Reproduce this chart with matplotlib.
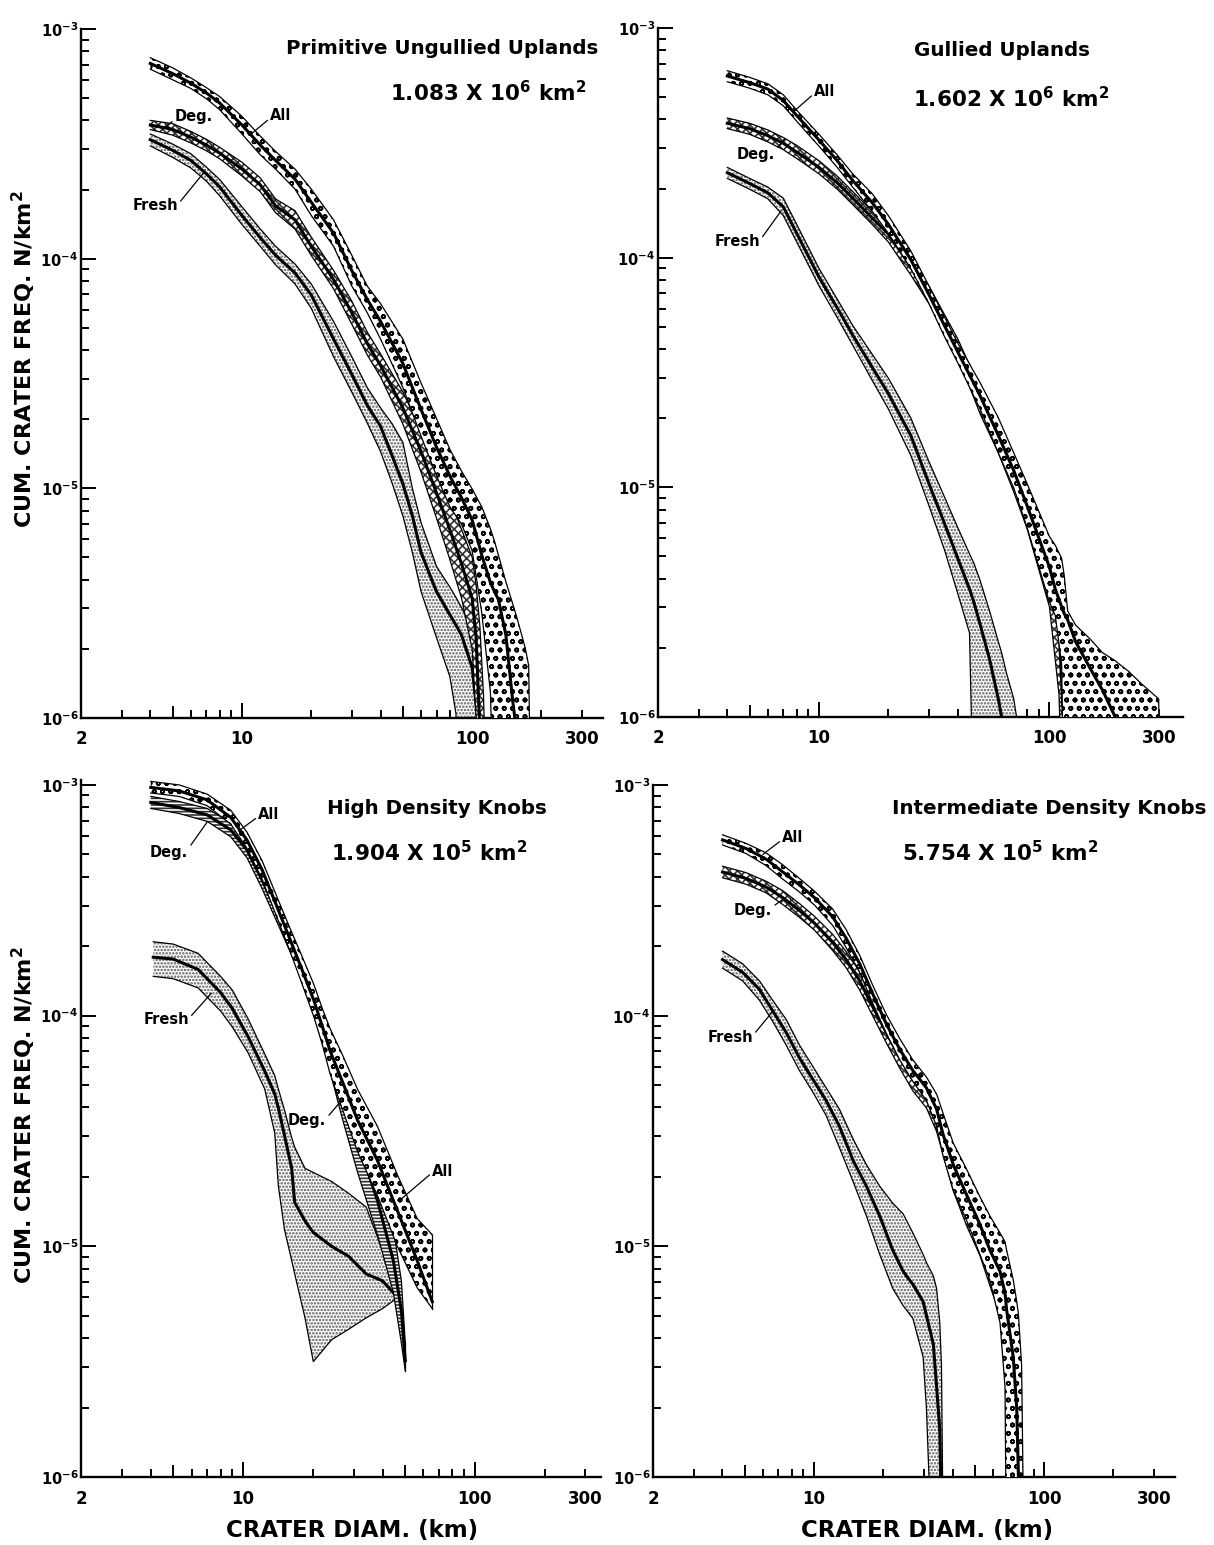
import numpy as np
import matplotlib
matplotlib.use("Agg")
import matplotlib.pyplot as plt
from matplotlib.ticker import NullFormatter

W, H = 1214, 1545
plt.rcParams["font.family"] = ["DejaVu Sans"]
plt.rcParams["mathtext.fontset"] = "dejavusans"
plt.rcParams["hatch.linewidth"] = 1.2

# ---------------- data: crater diameter D (km) and log10 of cumulative frequency N (per km^2) ----------
# ---- Primitive Ungullied Uplands
TL_ALL_D = [4, 5, 6, 7, 8, 10, 12, 14, 17, 20, 25, 30, 35, 40, 50, 60, 70, 80, 90, 100, 110, 120, 125, 130, 140, 150, 155, 160, 170, 176, 180]
TL_ALL_MID = [-3.150, -3.194, -3.236, -3.278, -3.322, -3.418, -3.505, -3.572, -3.654, -3.754, -3.889, -4.052, -4.177, -4.273, -4.456, -4.657, -4.821, -4.946, -5.042, -5.138, -5.290, -5.410, -5.450, -5.484, -5.637, -5.926, -6.040, -6.300, -6.500, -6.500, -6.500]
TL_ALL_HI = [-3.125, -3.169, -3.213, -3.255, -3.294, -3.380, -3.466, -3.533, -3.610, -3.697, -3.831, -3.985, -4.119, -4.196, -4.350, -4.542, -4.696, -4.830, -4.926, -5.003, -5.080, -5.176, -5.230, -5.291, -5.406, -5.503, -5.550, -5.599, -5.695, -5.772, -6.500]
TL_ALL_LO = [-3.175, -3.221, -3.259, -3.303, -3.351, -3.457, -3.547, -3.610, -3.697, -3.812, -3.946, -4.119, -4.235, -4.350, -4.561, -4.773, -4.946, -5.080, -5.157, -5.272, -5.540, -5.887, -6.500, -6.500, -6.500, -6.500, -6.500, -6.500, -6.500, -6.500, -6.500]

TL_DEG_D = [4, 5, 6, 7, 8, 10, 12, 14, 17, 20, 25, 30, 35, 40, 50, 60, 70, 80, 90, 100, 104, 108, 112, 116]
TL_DEG_MID = [-3.418, -3.437, -3.471, -3.505, -3.540, -3.610, -3.678, -3.770, -3.831, -3.946, -4.091, -4.235, -4.369, -4.465, -4.650, -4.840, -5.020, -5.180, -5.330, -5.480, -5.650, -6.050, -6.500, -6.500]
TL_DEG_HI = [-3.398, -3.412, -3.446, -3.480, -3.515, -3.580, -3.648, -3.740, -3.791, -3.906, -4.051, -4.185, -4.319, -4.415, -4.580, -4.750, -4.910, -5.050, -5.180, -5.300, -5.420, -5.600, -5.900, -6.500]
TL_DEG_LO = [-3.438, -3.462, -3.496, -3.530, -3.565, -3.640, -3.708, -3.800, -3.871, -3.986, -4.131, -4.285, -4.419, -4.515, -4.720, -4.930, -5.130, -5.310, -5.480, -5.700, -6.000, -6.500, -6.500, -6.500]

TL_FRESH_D = [4, 5, 6, 7, 8, 10, 12, 14, 17, 20, 25, 30, 35, 40, 45, 50, 55, 60, 70, 80, 85, 90, 100, 105, 108, 110]
TL_FRESH_MID = [-3.482, -3.528, -3.572, -3.630, -3.687, -3.812, -3.908, -3.985, -4.062, -4.158, -4.350, -4.504, -4.638, -4.730, -4.860, -4.980, -5.120, -5.280, -5.450, -5.550, -5.595, -5.640, -5.780, -5.980, -6.300, -6.500]
TL_FRESH_HI = [-3.457, -3.501, -3.543, -3.601, -3.655, -3.774, -3.870, -3.946, -4.023, -4.110, -4.273, -4.427, -4.561, -4.650, -4.720, -4.800, -5.000, -5.150, -5.340, -5.430, -5.475, -5.520, -5.610, -5.750, -5.900, -6.500]
TL_FRESH_LO = [-3.509, -3.559, -3.605, -3.662, -3.726, -3.851, -3.946, -4.027, -4.110, -4.216, -4.427, -4.581, -4.715, -4.840, -4.980, -5.120, -5.280, -5.450, -5.650, -5.820, -5.980, -6.500, -6.500, -6.500, -6.500, -6.500]

# ---- Gullied Uplands
TR_ALL_D = [4, 5, 6, 7, 8, 10, 12, 14, 17, 20, 25, 30, 35, 40, 50, 60, 70, 80, 100, 106, 113, 116, 120, 130, 150, 170, 193, 200, 220, 250, 298, 302]
TR_ALL_MID = [-3.209, -3.238, -3.266, -3.316, -3.381, -3.488, -3.578, -3.664, -3.760, -3.855, -4.008, -4.161, -4.295, -4.410, -4.601, -4.774, -4.927, -5.080, -5.347, -5.443, -5.520, -5.550, -5.577, -5.673, -5.787, -5.883, -6.000, -6.100, -6.500, -6.500, -6.500, -6.500]
TR_ALL_HI = [-3.186, -3.215, -3.243, -3.291, -3.358, -3.463, -3.553, -3.635, -3.721, -3.817, -3.970, -4.123, -4.257, -4.372, -4.544, -4.697, -4.850, -4.984, -5.214, -5.252, -5.309, -5.386, -5.539, -5.600, -5.660, -5.720, -5.755, -5.768, -5.800, -5.854, -5.921, -6.500]
TR_ALL_LO = [-3.234, -3.262, -3.291, -3.339, -3.406, -3.515, -3.607, -3.693, -3.798, -3.894, -4.047, -4.200, -4.343, -4.458, -4.659, -4.850, -5.003, -5.175, -5.500, -5.558, -5.770, -6.500, -6.500, -6.500, -6.500, -6.500, -6.500, -6.500, -6.500, -6.500, -6.500, -6.500]

TR_DEG_D = [4, 5, 6, 7, 8, 10, 12, 14, 17, 20, 25, 30, 35, 40, 50, 60, 70, 80, 100, 110, 115, 118]
TR_DEG_MID = [-3.415, -3.438, -3.469, -3.502, -3.540, -3.607, -3.674, -3.741, -3.827, -3.897, -4.037, -4.161, -4.286, -4.391, -4.620, -4.790, -4.950, -5.100, -5.370, -5.600, -6.000, -6.500]
TR_DEG_HI = [-3.392, -3.415, -3.444, -3.477, -3.511, -3.578, -3.645, -3.712, -3.798, -3.865, -3.999, -4.123, -4.247, -4.353, -4.570, -4.740, -4.890, -5.030, -5.250, -5.450, -5.700, -6.500]
TR_DEG_LO = [-3.438, -3.463, -3.496, -3.530, -3.568, -3.635, -3.702, -3.769, -3.855, -3.932, -4.075, -4.200, -4.324, -4.429, -4.680, -4.850, -5.020, -5.180, -5.520, -5.900, -6.500, -6.500]

TR_FRESH_D = [4, 5, 6, 7, 8, 10, 12, 14, 17, 20, 25, 30, 35, 40, 45, 47, 50, 55, 60, 62, 65, 70, 72, 74]
TR_FRESH_MID = [-3.630, -3.677, -3.718, -3.779, -3.894, -4.085, -4.219, -4.337, -4.477, -4.592, -4.773, -4.984, -5.156, -5.309, -5.443, -5.500, -5.596, -5.749, -5.921, -6.000, -6.300, -6.500, -6.500, -6.500]
TR_FRESH_HI = [-3.607, -3.655, -3.693, -3.741, -3.855, -4.047, -4.181, -4.295, -4.420, -4.525, -4.697, -4.888, -5.041, -5.175, -5.290, -5.330, -5.405, -5.539, -5.672, -5.720, -5.806, -5.921, -6.000, -6.500]
TR_FRESH_LO = [-3.655, -3.702, -3.744, -3.817, -3.932, -4.123, -4.261, -4.381, -4.534, -4.659, -4.860, -5.080, -5.271, -5.462, -5.634, -6.500, -6.500, -6.500, -6.500, -6.500, -6.500, -6.500, -6.500, -6.500]

# ---- High Density Knobs
BL_ALL_D = [4.0, 5.3, 7.0, 8.85, 10.4, 12.1, 14.2, 16.0, 18.0, 20.2, 21.9, 23.7, 26.7, 31.2, 38.0, 46.3, 56.4, 65.5]
BL_ALL_MID = [-3.011, -3.026, -3.065, -3.141, -3.239, -3.369, -3.543, -3.673, -3.803, -3.934, -4.042, -4.151, -4.281, -4.454, -4.628, -4.845, -5.062, -5.240]
BL_ALL_HI = [-2.985, -3.000, -3.040, -3.110, -3.205, -3.330, -3.500, -3.625, -3.745, -3.865, -3.965, -4.055, -4.165, -4.320, -4.480, -4.690, -4.880, -4.950]
BL_ALL_LO = [-3.035, -3.050, -3.090, -3.170, -3.275, -3.410, -3.590, -3.725, -3.865, -4.005, -4.120, -4.250, -4.400, -4.590, -4.780, -5.000, -5.180, -5.270]

BL_DEG_D = [4.0, 5.3, 7.0, 8.85, 10.4, 12.1, 14.2, 16.6, 19.4, 22.8, 26.7, 31.2, 38.0, 44.5, 48.2, 50.1]
BL_DEG_MID = [-3.076, -3.098, -3.130, -3.195, -3.282, -3.413, -3.565, -3.716, -3.890, -4.107, -4.324, -4.541, -4.802, -5.062, -5.279, -5.496]
BL_DEG_HI = [-3.050, -3.072, -3.102, -3.165, -3.248, -3.375, -3.522, -3.670, -3.840, -4.040, -4.200, -4.400, -4.650, -4.920, -5.150, -5.420]
BL_DEG_LO = [-3.102, -3.124, -3.158, -3.225, -3.316, -3.451, -3.608, -3.762, -3.940, -4.174, -4.440, -4.680, -4.950, -5.200, -5.420, -5.540]

BL_FRESH_D = [4.1, 5.0, 6.4, 8.0, 9.0, 10.5, 12.4, 13.7, 14.2, 15.1, 16.2, 16.7, 18.5, 20.1, 24.1, 28.5, 34.0, 40.0, 45.3]
BL_FRESH_MID = [-3.747, -3.755, -3.800, -3.900, -3.970, -4.090, -4.240, -4.340, -4.400, -4.520, -4.660, -4.810, -4.890, -4.940, -5.000, -5.043, -5.120, -5.150, -5.210]
BL_FRESH_HI = [-3.680, -3.690, -3.730, -3.830, -3.890, -4.013, -4.166, -4.260, -4.318, -4.410, -4.528, -4.570, -4.662, -4.680, -4.719, -4.770, -4.830, -5.020, -5.200]
BL_FRESH_LO = [-3.830, -3.840, -3.880, -3.980, -4.050, -4.160, -4.318, -4.509, -4.738, -4.929, -5.060, -5.119, -5.310, -5.500, -5.405, -5.360, -5.310, -5.270, -5.230]

# ---- Intermediate Density Knobs
BR_ALL_D = [4.01, 5.07, 6.19, 7.32, 8.65, 10.05, 12.07, 13.8, 15.8, 18.0, 20.6, 23.6, 26.9, 30.8, 34.1, 36.4, 40.3, 46.0, 52.6, 58.1, 64.3, 67.6, 68.7, 73.4, 76.0, 77.3, 79.8, 80.9, 82.0]
BR_ALL_MID = [-3.238, -3.275, -3.321, -3.377, -3.433, -3.488, -3.572, -3.664, -3.775, -3.905, -4.035, -4.146, -4.238, -4.313, -4.405, -4.516, -4.646, -4.776, -4.905, -5.016, -5.109, -5.202, -5.276, -5.480, -5.702, -5.998, -6.500, -6.500, -6.500]
BR_ALL_HI = [-3.216, -3.253, -3.294, -3.346, -3.405, -3.460, -3.538, -3.627, -3.738, -3.868, -3.994, -4.100, -4.192, -4.266, -4.340, -4.424, -4.553, -4.665, -4.785, -4.868, -4.942, -4.980, -5.017, -5.146, -5.239, -5.294, -5.517, -6.000, -6.500]
BR_ALL_LO = [-3.260, -3.297, -3.349, -3.408, -3.464, -3.520, -3.609, -3.705, -3.812, -3.946, -4.075, -4.192, -4.285, -4.368, -4.479, -4.609, -4.757, -4.887, -5.035, -5.146, -5.331, -5.609, -6.500, -6.500, -6.500, -6.500, -6.500, -6.500, -6.500]

BR_DEG_D = [4.01, 5.07, 6.19, 7.32, 8.65, 10.05, 12.07, 13.8, 15.8, 18.0, 20.6, 23.6, 26.9, 30.8, 34.1, 40.3, 46.0, 52.6, 58.1, 64.3, 68.7, 73.4, 76.0, 77.3]
BR_DEG_MID = [-3.377, -3.405, -3.442, -3.488, -3.544, -3.599, -3.683, -3.757, -3.849, -3.961, -4.072, -4.183, -4.276, -4.350, -4.442, -4.680, -4.810, -4.940, -5.050, -5.150, -5.320, -5.550, -5.800, -6.100]
BR_DEG_HI = [-3.352, -3.380, -3.417, -3.458, -3.514, -3.569, -3.648, -3.722, -3.809, -3.921, -4.027, -4.138, -4.226, -4.300, -4.382, -4.600, -4.710, -4.840, -4.930, -5.000, -5.120, -5.300, -5.500, -5.700]
BR_DEG_LO = [-3.402, -3.430, -3.467, -3.518, -3.574, -3.629, -3.718, -3.792, -3.889, -4.001, -4.117, -4.228, -4.326, -4.400, -4.502, -4.760, -4.910, -5.040, -5.170, -5.300, -5.520, -5.800, -6.100, -6.500]

BR_FRESH_D = [4.01, 4.90, 5.80, 6.62, 7.57, 8.65, 9.89, 11.3, 12.9, 14.8, 16.9, 19.3, 22.0, 24.4, 26.9, 29.8, 30.8, 33.0, 34.1, 35.2, 35.8, 36.2, 37.0]
BR_FRESH_MID = [-3.757, -3.812, -3.886, -3.979, -4.072, -4.183, -4.276, -4.368, -4.479, -4.628, -4.739, -4.868, -5.017, -5.109, -5.165, -5.239, -5.300, -5.424, -5.609, -5.795, -6.200, -6.500, -6.500]
BR_FRESH_HI = [-3.720, -3.775, -3.849, -3.933, -4.016, -4.127, -4.220, -4.313, -4.405, -4.535, -4.646, -4.739, -4.813, -4.859, -4.942, -5.035, -5.070, -5.128, -5.183, -5.331, -5.517, -6.000, -6.500]
BR_FRESH_LO = [-3.794, -3.849, -3.933, -4.025, -4.127, -4.238, -4.331, -4.433, -4.572, -4.720, -4.868, -5.035, -5.183, -5.257, -5.313, -5.480, -5.702, -6.500, -6.500, -6.500, -6.500, -6.500, -6.500]

TITLES = ["Primitive Ungullied Uplands", "Gullied Uplands", "High Density Knobs", "Intermediate Density Knobs"]
AREA_MANTISSA = ["1.083", "1.602", "1.904", "5.754"]
AREA_EXPONENT = ["6", "6", "5", "5"]
X_MAJOR = [2, 10, 100, 300]
X_TICK_LABELS = ["2", "10", "100", "300"]
X_MINOR = [3, 4, 5, 6, 7, 8, 9, 20, 30, 40, 50, 60, 70, 80, 90, 200]
Y_MAJOR = [1e-6, 1e-5, 1e-4, 1e-3]
Y_TICK_LABELS = [r"$\mathbf{10^{-6}}$", r"$\mathbf{10^{-5}}$", r"$\mathbf{10^{-4}}$", r"$\mathbf{10^{-3}}$"]
Y_MINOR = [m * 10.0 ** e for e in (-6, -5, -4) for m in range(2, 10)]

# leader labels: text, target D, target N, text position (figure px), attach point on text
TL_LABELS = [("All", 11.0, 3.5e-4, 281, 115, (0, 0.3)), ("Deg.", 4.7, 3.75e-4, 194, 116, (0, 0.3)),
             ("Fresh", 6.9, 2.4e-4, 155, 206, (1, 0.6))]
TR_LABELS = [("All", 7.7, 4.3e-4, 825, 92, (0, 0.4)), ("Deg.", 7.1, 3.3e-4, 756, 154, (1, 0.7)),
             ("Fresh", 6.85, 1.6e-4, 737, 242, (1, 0.6))]
BL_LABELS = [("All", 9.55, 6.3e-4, 269, 815, (0, 0.4)), ("Deg.", 7.0, 6.9e-4, 169, 852, (1, 0.7)),
             ("Fresh", 7.3, 1.25e-4, 166, 1020, (1, 0.6)), ("Deg.", 26.7, 4.3e-5, 307, 1120, (1, 0.6)),
             ("All", 48.0, 1.6e-5, 443, 1171, (0, 0.4))]
BR_LABELS = [("All", 6.0, 5.0e-4, 793, 838, (0, 0.4)), ("Deg.", 7.36, 3.2e-4, 753, 910, (1, 0.7)),
             ("Fresh", 6.66, 1.05e-4, 730, 1037, (1, 0.6))]

# ---------------- drawing ----------------
fig = plt.figure(figsize=(W / 100, H / 100), dpi=100)


def rect(l, t, r, b):
    return [l / W, 1 - b / H, (r - l) / W, (b - t) / H]


def fx(x):
    return x / W


def fy(y):
    return 1 - y / H


def draw_band(ax, D, mid, hi, lo, hatch, hcolor, z, close_end=False):
    D = np.asarray(D, float)
    m = 10.0 ** np.asarray(mid)
    h = 10.0 ** np.asarray(hi)
    l = 10.0 ** np.asarray(lo)
    ax.fill_between(D, l, h, facecolor="white", edgecolor=hcolor, hatch=hatch, linewidth=0, zorder=z)
    ax.plot(D, h, color="black", lw=0.9, zorder=z + 0.1)
    ax.plot(D, l, color="black", lw=0.9, zorder=z + 0.1)
    if close_end:
        ax.plot([D[-1], D[-1]], [l[-1], h[-1]], color="black", lw=0.9, zorder=z + 0.1)
    ax.plot(D, m, color="black", lw=2.2, zorder=z + 0.2)


def setup(ax, xmax, ytop):
    ax.set_xscale("log")
    ax.set_yscale("log")
    ax.set_xlim(2, xmax)
    ax.set_ylim(1e-6, ytop)
    ax.patch.set_alpha(0)
    for s in ("top", "right"):
        ax.spines[s].set_visible(False)
    for s in ("left", "bottom"):
        ax.spines[s].set_linewidth(1.7)
    ax.set_xticks(X_MAJOR, labels=X_TICK_LABELS, fontweight="bold", fontsize=12)
    ax.set_xticks(X_MINOR, minor=True)
    ax.xaxis.set_minor_formatter(NullFormatter())
    ax.set_yticks(Y_MAJOR, labels=Y_TICK_LABELS, fontsize=10.5)
    ax.set_yticks(Y_MINOR, minor=True)
    ax.yaxis.set_minor_formatter(NullFormatter())
    ax.tick_params(axis="both", which="both", direction="in", width=1.4)
    ax.tick_params(axis="x", which="major", length=6, pad=9)
    ax.tick_params(axis="x", which="minor", length=6)
    ax.tick_params(axis="y", which="major", length=11, pad=2)
    ax.tick_params(axis="y", which="minor", length=6)
    for t, v in zip(ax.xaxis.get_major_ticks(), X_MAJOR):
        t.tick1line.set_markersize(11 if v in (10, 100) else 6)
    for t, v in zip(ax.xaxis.get_minor_ticks(), X_MINOR):
        t.tick1line.set_markersize(9 if v in (5, 50) else 6)


def labels(ax, items):
    for txt, d, n, tx, ty, rp in items:
        ax.annotate(txt, xy=(d, n), xytext=(fx(tx), fy(ty)), textcoords="figure fraction",
                    ha="center", va="center", fontsize=10.5, fontweight="bold",
                    arrowprops=dict(arrowstyle="-", lw=0.9, color="black", shrinkA=0, shrinkB=0, relpos=rp),
                    zorder=10)


ALL_HATCH, DEG_HATCH, FRESH_HATCH = "oo", "xxxx", "....."
ALL_C, DEG_C, FRESH_C = "#000000", "#333333", "#555555"

panels = [
    (rect(81, 29, 603, 718), 370, 1e-3,
     (TL_FRESH_D, TL_FRESH_MID, TL_FRESH_HI, TL_FRESH_LO),
     (TL_DEG_D, TL_DEG_MID, TL_DEG_HI, TL_DEG_LO),
     (TL_ALL_D, TL_ALL_MID, TL_ALL_HI, TL_ALL_LO), TL_LABELS, DEG_HATCH, False),
    (rect(658, 28, 1183, 717), 380, 1e-3,
     (TR_FRESH_D, TR_FRESH_MID, TR_FRESH_HI, TR_FRESH_LO),
     (TR_DEG_D, TR_DEG_MID, TR_DEG_HI, TR_DEG_LO),
     (TR_ALL_D, TR_ALL_MID, TR_ALL_HI, TR_ALL_LO), TR_LABELS, DEG_HATCH, False),
    (rect(81, 780, 601, 1477), 350, 1.05e-3,
     (BL_FRESH_D, BL_FRESH_MID, BL_FRESH_HI, BL_FRESH_LO),
     (BL_DEG_D, BL_DEG_MID, BL_DEG_HI, BL_DEG_LO),
     (BL_ALL_D, BL_ALL_MID, BL_ALL_HI, BL_ALL_LO), BL_LABELS, "-----", True),
    (rect(653, 785, 1175, 1477), 370, 1e-3,
     (BR_FRESH_D, BR_FRESH_MID, BR_FRESH_HI, BR_FRESH_LO),
     (BR_DEG_D, BR_DEG_MID, BR_DEG_HI, BR_DEG_LO),
     (BR_ALL_D, BR_ALL_MID, BR_ALL_HI, BR_ALL_LO), BR_LABELS, DEG_HATCH, False),
]

for (r, xmax, ytop, fresh, deg, allb, labs, dh, close) in panels:
    ax = fig.add_axes(r)
    setup(ax, xmax, ytop)
    draw_band(ax, *fresh, FRESH_HATCH, FRESH_C, 2, close_end=close)
    draw_band(ax, *deg, dh, DEG_C, 3, close_end=close)
    draw_band(ax, *allb, ALL_HATCH, ALL_C, 4, close_end=close)
    labels(ax, labs)

# panel titles and areas
TITLE_POS = [(442, 48), (1002, 51), (437, 809), (1049, 808)]
AREA_POS = [(488, 93), (1011, 99), (429, 853), (1000, 853)]
for t, (x, y) in zip(TITLES, TITLE_POS):
    fig.text(fx(x), fy(y), t, ha="center", va="center", fontsize=14.3, fontweight="bold")
for mnt, ex, (x, y) in zip(AREA_MANTISSA, AREA_EXPONENT, AREA_POS):
    fig.text(fx(x), fy(y), mnt + r" X 10$^{\mathbf{" + ex + r"}}$ km$^{\mathbf{2}}$",
             ha="center", va="center", fontsize=15.5, fontweight="bold")

# axis titles
for y in (359, 1115):
    fig.text(fx(24), fy(y), r"CUM. CRATER FREQ. N/km$^{\mathbf{2}}$", rotation=90,
             ha="center", va="center", fontsize=16, fontweight="bold")
for x in (352, 927):
    fig.text(fx(x), fy(1531), "CRATER DIAM. (km)", ha="center", va="center", fontsize=16.5, fontweight="bold")

fig.savefig("out.png", dpi=100, facecolor="white")
